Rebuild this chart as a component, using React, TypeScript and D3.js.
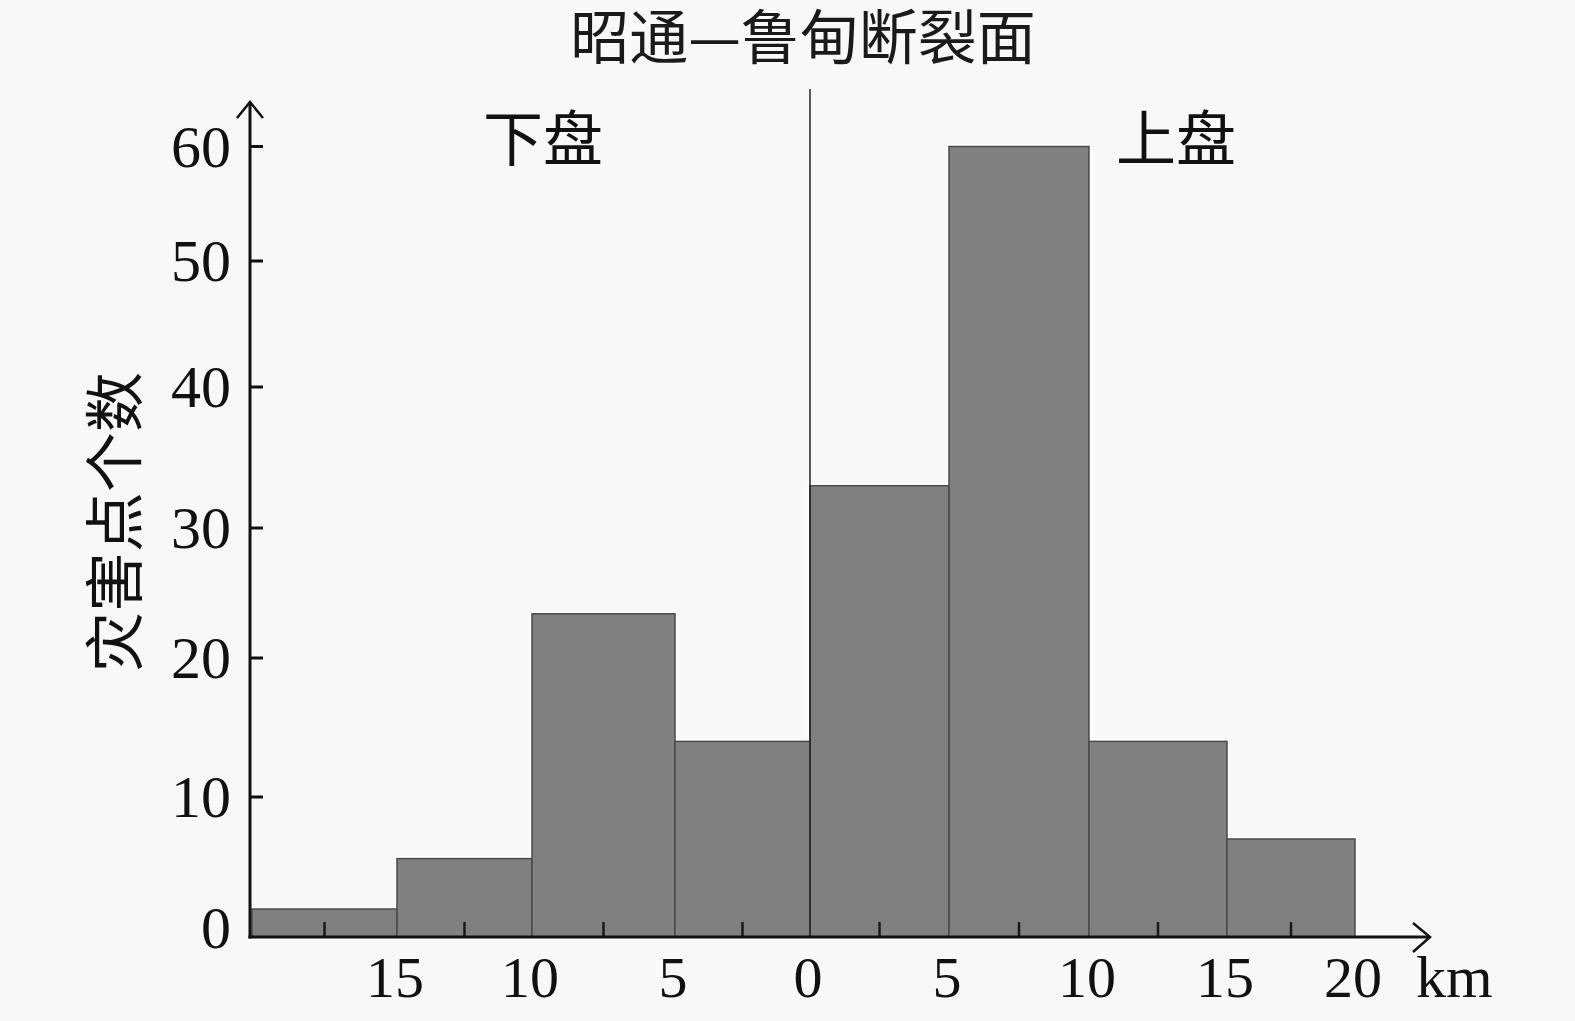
import React from "react";
import * as d3 from "d3";

// ---- data ----
const binStarts: number[] = [-20, -15, -10, -5, 0, 5, 10, 15];
const binEnds: number[] = [-15, -10, -5, 0, 5, 10, 15, 20];
const counts: number[] = [2, 5.6, 23.4, 14, 33, 60, 14, 7];
const yTicks: number[] = [0, 10, 20, 30, 40, 50, 60];
const xTickValues: number[] = [-15, -10, -5, 0, 5, 10, 15, 20];
const xTickLabels: string[] = ["15", "10", "5", "0", "5", "10", "15", "20"];
const title = "昭通—鲁甸断裂面";
const yLabel = "灾害点个数";
const unitLabel = "km";
const footwallLabel = "下盘";
const hangingLabel = "上盘";

const W = 1575;
const H = 1021;
const cjk = "'Noto Sans CJK SC', 'Noto Sans', sans-serif";
const serif = "'Liberation Serif', 'DejaVu Serif', serif";

export default function App() {
  // hand-drawn original: piecewise-linear scales
  const x = d3
    .scaleLinear()
    .domain([-20, -15, -10, -5, 0, 5, 10, 15, 20])
    .range([252, 397, 532, 675, 810, 949, 1089, 1227, 1355]);
  const y = d3
    .scaleLinear()
    .domain(yTicks)
    .range([937, 797, 658, 528, 387, 261, 146.5]);

  const axisX = 250;
  const baseY = y(0);
  const axisTop = 102;
  const axisRight = 1430;

  return (
    <div style={{ position: "absolute", left: 0, top: 0 }}>
      <svg width={W} height={H} style={{ display: "block" }}>
        <rect x={0} y={0} width={W} height={H} fill="#f8f8f8" />

        {/* title */}
        <text
          x={803}
          y={33}
          fontFamily={cjk}
          fontSize={59}
          textAnchor="middle"
          dominantBaseline="central"
          fill="#1a1a1a"
        >
          {title}
        </text>

        {/* bar halos */}
        {counts.map((c, i) => (
          <rect
            key={"h" + i}
            x={x(binStarts[i])}
            y={y(c)}
            width={x(binEnds[i]) - x(binStarts[i])}
            height={baseY - y(c)}
            fill="none"
            stroke="#ffffff"
            strokeWidth={5}
          />
        ))}
        {/* bars */}
        {counts.map((c, i) => (
          <rect
            key={"b" + i}
            x={x(binStarts[i])}
            y={y(c)}
            width={x(binEnds[i]) - x(binStarts[i])}
            height={baseY - y(c)}
            fill="#808080"
            stroke="#4a4a4a"
            strokeWidth={1.5}
          />
        ))}

        {/* fault line at 0 */}
        <line x1={x(0)} x2={x(0)} y1={89} y2={baseY} stroke="#222" strokeWidth={1.5} />

        {/* minor x ticks at bin mids */}
        {binStarts.map((s, i) => {
          const mx = x((s + binEnds[i]) / 2);
          return (
            <line key={"mt" + i} x1={mx} x2={mx} y1={baseY} y2={baseY - 15} stroke="#1a1a1a" strokeWidth={2.5} />
          );
        })}

        {/* y axis */}
        <line x1={axisX} x2={axisX} y1={baseY + 1.5} y2={axisTop} stroke="#111" strokeWidth={3} />
        <path
          d={`M${axisX - 13},${axisTop + 16} L${axisX},${axisTop} L${axisX + 13},${axisTop + 16}`}
          fill="none"
          stroke="#111"
          strokeWidth={2.5}
        />
        {yTicks.map((t) => (
          <g key={"yt" + t}>
            {t > 0 && <line x1={axisX} x2={axisX + 13} y1={y(t)} y2={y(t)} stroke="#111" strokeWidth={3} />}
            <text
              x={231}
              y={y(t) - (t === 0 ? 9 : 0)}
              fontFamily={serif}
              fontSize={60}
              textAnchor="end"
              dominantBaseline="central"
              fill="#111"
            >
              {t}
            </text>
          </g>
        ))}

        {/* x axis */}
        <line x1={axisX - 1.5} x2={axisRight} y1={baseY} y2={baseY} stroke="#111" strokeWidth={3} />
        <path
          d={`M${axisRight - 17},${baseY - 14} L${axisRight},${baseY} L${axisRight - 17},${baseY + 15}`}
          fill="none"
          stroke="#111"
          strokeWidth={2.5}
        />
        {xTickValues.map((v, i) => (
          <text
            key={"xt" + i}
            x={x(v) - 2}
            y={997}
            fontFamily={serif}
            fontSize={58}
            textAnchor="middle"
            fill="#111"
          >
            {xTickLabels[i]}
          </text>
        ))}
        <text x={1416} y={997} fontFamily={serif} fontSize={60} fill="#111">
          {unitLabel}
        </text>

        {/* side labels */}
        <text x={543} y={134} fontFamily={cjk} fontSize={60} textAnchor="middle" dominantBaseline="central" fill="#111">
          {footwallLabel}
        </text>
        <text x={1176} y={134} fontFamily={cjk} fontSize={60} textAnchor="middle" dominantBaseline="central" fill="#111">
          {hangingLabel}
        </text>

        {/* y label */}
        <text
          transform={`translate(110,522) rotate(-90)`}
          fontFamily={cjk}
          fontSize={60}
          textAnchor="middle"
          dominantBaseline="central"
          fill="#111"
        >
          {yLabel}
        </text>
      </svg>
    </div>
  );
}
